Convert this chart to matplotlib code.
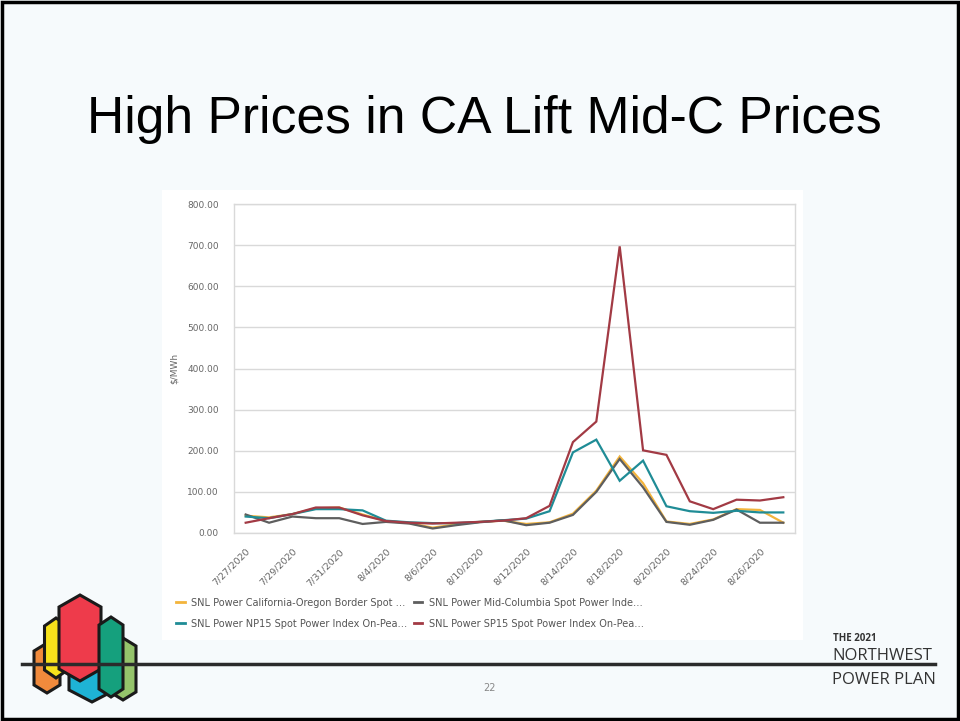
import matplotlib
matplotlib.use("Agg")
import matplotlib.pyplot as plt
from matplotlib.patches import Rectangle, Polygon
from matplotlib.lines import Line2D

# Trading days shown on the category axis
dates = ['7/27/2020', '7/28/2020', '7/29/2020', '7/30/2020', '7/31/2020',
         '8/3/2020', '8/4/2020', '8/5/2020', '8/6/2020', '8/7/2020',
         '8/10/2020', '8/11/2020', '8/12/2020', '8/13/2020', '8/14/2020',
         '8/17/2020', '8/18/2020', '8/19/2020', '8/20/2020', '8/21/2020',
         '8/24/2020', '8/25/2020', '8/26/2020', '8/27/2020']

# $/MWh
cob = [42, 38, 46, 60, 62, 45, 29, 24, 13, 21, 27, 30, 22, 26, 47, 103, 186, 121, 28, 22, 33, 58, 56, 25]
midc = [45, 25, 40, 36, 36, 22, 27, 23, 11, 19, 26, 31, 19, 25, 44, 100, 180, 111, 27, 20, 32, 57, 25, 25]
np15 = [40, 36, 46, 58, 58, 55, 30, 26, 24, 24, 27, 31, 35, 53, 196, 227, 127, 176, 65, 53, 49, 54, 50, 50]
sp15 = [25, 36, 46, 62, 62, 43, 29, 25, 23, 25, 27, 30, 36, 66, 221, 271, 697, 201, 190, 77, 58, 81, 79, 87]

series_names = ['SNL Power California-Oregon Border Spot \u2026',
                'SNL Power Mid-Columbia Spot Power Inde\u2026',
                'SNL Power NP15 Spot Power Index On-Pea\u2026',
                'SNL Power SP15 Spot Power Index On-Pea\u2026']
series_colors = ['#F3B43C', '#5E5E5E', '#1F8C96', '#A23A44']

W, H = 960, 721
fig = plt.figure(figsize=(W / 100, H / 100), dpi=100)
fig.patch.set_facecolor('#F6FAFC')

def fx(px):
    return px / W

def fy(py):
    return 1 - py / H

# white chart panel
fig.patches.append(Rectangle((fx(162), fy(640)), fx(803) - fx(162), fy(190) - fy(640),
                             transform=fig.transFigure, facecolor='white', edgecolor='none', zorder=-5))

# slide border
fig.patches.append(Rectangle((0.002, 0.003), 0.996, 0.994, transform=fig.transFigure,
                             facecolor='none', edgecolor='black', linewidth=2.5, zorder=10))

# title
fig.text(fx(484), fy(133), 'High Prices in CA Lift Mid-C Prices',
         family=['Liberation Sans', 'DejaVu Sans'], fontsize=37.2,
         ha='center', va='baseline', color='black')

# chart
ax = fig.add_axes([fx(234), fy(533), fx(795) - fx(234), fy(204) - fy(533)])
ax.set_zorder(2)
ax.set_facecolor('white')
x = list(range(len(dates)))
values = [cob, midc, np15, sp15]
for vals, col in zip(values, series_colors):
    ax.plot(x, vals, color=col, linewidth=1.6, solid_joinstyle='miter')

ax.set_xlim(-0.5, len(dates) - 0.5)
ax.set_ylim(0, 800)
ax.set_yticks(range(0, 801, 100))
ax.set_yticklabels([f'{v:.2f}' for v in range(0, 801, 100)])
ax.yaxis.grid(True, color='#D9D9D9', linewidth=1)
ax.set_axisbelow(True)
for s in ax.spines.values():
    s.set_color('#D9D9D9')
    s.set_linewidth(1)
ax.tick_params(axis='both', length=0, colors='#666666', labelsize=6.5)
ax.tick_params(axis='y', pad=11)
ax.set_xticks(x[::2])
ax.set_xticklabels(dates[::2], rotation=45, ha='right', va='top',
                   rotation_mode='anchor', fontsize=6.8, color='#666666')
ax.tick_params(axis='x', pad=10)
ax.set_ylabel('$/MWh', fontsize=6.5, color='#666666', labelpad=6)

handles = [Line2D([0], [0], color=c, linewidth=2) for c in series_colors]
order = [0, 2, 1, 3]
leg = fig.legend([handles[i] for i in order], [series_names[i] for i in order],
                 ncol=2, loc='upper left', bbox_to_anchor=(fx(171), fy(593)),
                 frameon=False, fontsize=7, handlelength=0.9, handletextpad=0.7,
                 columnspacing=0.6, labelspacing=1.1, borderpad=0)
for t in leg.get_texts():
    t.set_color('#555555')

# logo
def hexa(cx, w, t, b, h):
    return [(cx, t), (cx + w, t + h), (cx + w, b - h), (cx, b), (cx - w, b - h), (cx - w, t + h)]

logo = [
    ((47, 13, 643, 693, 8), '#F08A3C'),
    ((56, 11.5, 618, 678, 8), '#F7E21B'),
    ((92, 23, 627, 702, 12), '#1EB3D5'),
    ((80, 21, 595, 681, 12), '#EE3B4B'),
    ((123, 13, 638, 700, 8), '#95C46B'),
    ((111, 12, 617, 697, 8), '#15A07D'),
]
for (cx, w, t, b, h), col in logo:
    pts = [(fx(px), fy(py)) for px, py in hexa(cx, w, t, b, h)]
    fig.patches.append(Polygon(pts, closed=True, transform=fig.transFigure,
                               facecolor=col, edgecolor='#1A1A1A', linewidth=2.2, zorder=3))

fig.lines.append(Line2D([fx(22), fx(935)], [fy(664), fy(664)], transform=fig.transFigure,
                        color='#2B2B2B', linewidth=2.5, zorder=5))

# branding
fig.text(fx(833), fy(641), 'THE 2021', family=['Open Sans', 'DejaVu Sans'], fontsize=7,
         fontweight='bold', color='#333333', ha='left', va='baseline')
fig.text(fx(832), fy(660), 'NORTHWEST', family=['Open Sans', 'DejaVu Sans'], fontsize=12,
         color='#333333', ha='left', va='baseline')
fig.text(fx(832), fy(684), 'POWER PLAN', family=['Open Sans', 'DejaVu Sans'], fontsize=12,
         color='#333333', ha='left', va='baseline')
fig.text(fx(490), fy(688), '22', fontsize=7, color='#888888', ha='center', va='center')

fig.savefig('out.png', dpi=100, facecolor=fig.get_facecolor())
